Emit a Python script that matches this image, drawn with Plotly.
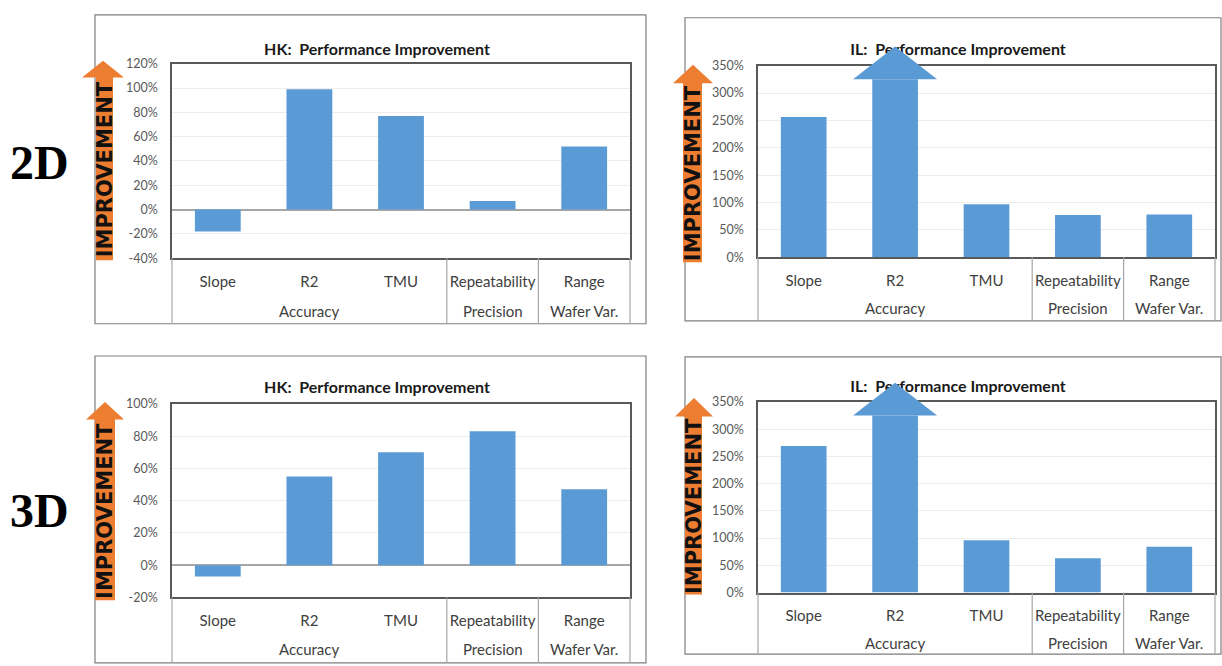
import plotly.graph_objects as go

# ---------------- data ----------------
metrics = ["Slope", "R2", "TMU", "Repeatability", "Range"]
groups = ["Accuracy", "Accuracy", "Accuracy", "Precision", "Wafer Var."]

hk_2d = [-18, 99, 77, 7, 52]
il_2d = [256, 385, 97, 77, 78]     # R2 is off-scale -> drawn as an arrow
hk_3d = [-7, 55, 70, 83, 47]
il_3d = [269, 385, 96, 63, 84]     # R2 is off-scale -> drawn as an arrow

hk_2d_ticks = [-40, -20, 0, 20, 40, 60, 80, 100, 120]
hk_3d_ticks = [-20, 0, 20, 40, 60, 80, 100]
il_ticks = [0, 50, 100, 150, 200, 250, 300, 350]

hk_title = "HK:\u00a0 Performance Improvement"
il_title = "IL:\u00a0 Performance Improvement"
row_labels = ["2D", "3D"]
side_label = "IMPROVEMENT"

# ---------------- styles / layout ----------------
W, H = 1222, 666
BLUE = "#5B9BD5"
ORANGE = "#ED7D31"
FONT = "Lato"
HEAD_LEN = 60          # arrow head length (axis units, %)
HEAD_HALF = 0.46       # arrow head half width (category units)


def px(x):
    return x / W


def py(y):
    return 1 - y / H


panels = [
    dict(vals=hk_2d, ticks=hk_2d_ticks, title=hk_title, title_x=377, title_y=41,
         plot=(172, 630, 57, 256), box=(95, 646, 7, 323), rows=(280, 310),
         orange=(96, 113, 82, 124, 54, 71, 258), zero=True),
    dict(vals=il_2d, ticks=il_ticks, title=il_title, title_x=958, title_y=41,
         plot=(758, 1215, 59, 255), box=(685, 1221, 10, 320), rows=(277, 307),
         orange=(683, 702, 673, 713, 58, 77, 260), zero=False),
    dict(vals=hk_3d, ticks=hk_3d_ticks, title=hk_title, title_x=377, title_y=387,
         plot=(172, 630, 405, 603), box=(95, 646, 356, 670), rows=(625, 656),
         orange=(95, 115, 86, 124, 403, 421, 606), zero=True),
    dict(vals=il_3d, ticks=il_ticks, title=il_title, title_x=958, title_y=386,
         plot=(758, 1215, 403, 598), box=(685, 1221, 357, 661), rows=(619, 650),
         orange=(685, 702, 675, 713, 399, 418, 600), zero=False),
]

fig = go.Figure()
shapes = []
annotations = []
layout_axes = {}
n = len(metrics)

# group boundaries (category index where group changes)
bounds = [0] + [i for i in range(1, n) if groups[i] != groups[i - 1]] + [n]
group_spans = []
for a, b in zip(bounds[:-1], bounds[1:]):
    group_spans.append((groups[a], (a + b - 1) / 2))

for k, p in enumerate(panels, start=1):
    sfx = "" if k == 1 else str(k)
    xa, ya = f"x{sfx}", f"y{sfx}"
    ymin, ymax = min(p["ticks"]), max(p["ticks"])
    bar_vals = [v - HEAD_LEN if v > ymax else v for v in p["vals"]]
    fig.add_trace(go.Bar(x=metrics, y=bar_vals, xaxis=xa, yaxis=ya,
                         marker=dict(color=BLUE, line=dict(width=0)),
                         showlegend=False, hoverinfo="x+y"))

    x0, x1, y0, y1 = p["plot"]
    layout_axes[f"xaxis{sfx}"] = dict(
        domain=[px(x0), px(x1)], anchor=ya, type="category",
        showline=True, mirror=True, linecolor="#595959", linewidth=1.5,
        showgrid=False, ticks="", ticklabelstandoff=9,
        tickfont=dict(family=FONT, size=15, color="#404040"),
        fixedrange=True)
    layout_axes[f"yaxis{sfx}"] = dict(
        domain=[py(y1), py(y0)], anchor=xa, range=[ymin, ymax],
        tickvals=p["ticks"], ticktext=[f"{t}%" for t in p["ticks"]],
        showline=True, mirror=True, linecolor="#595959", linewidth=1.5,
        showgrid=True, gridcolor="#ededed", gridwidth=1,
        zeroline=p["zero"], zerolinecolor="#a6a6a6", zerolinewidth=1.5,
        ticks="", ticklabelstandoff=10,
        tickfont=dict(family=FONT, size=12.5, color="#595959"),
        fixedrange=True)

    # panel frame
    bx0, bx1, by0, by1 = p["box"]
    shapes.append(dict(type="rect", xref="paper", yref="paper",
                       x0=px(bx0), x1=px(bx1), y0=py(by1), y1=py(by0),
                       line=dict(color="#7f7f7f", width=1.2), layer="below"))

    # category dividers
    for b in bounds:
        shapes.append(dict(type="line", xref=f"{xa} domain", yref="paper",
                           x0=b / n, x1=b / n, y0=py(y1), y1=py(by1),
                           line=dict(color="#a6a6a6", width=1.2)))

    # group labels (second row)
    for g, c in group_spans:
        annotations.append(dict(x=c, xref=xa, y=py(p["rows"][1]), yref="paper",
                                text=g, showarrow=False, xanchor="center", yanchor="middle",
                                font=dict(family=FONT, size=15, color="#404040")))

    # title (as a shape label so the off-scale arrow can overlap it)
    tx, ty = p["title_x"], p["title_y"]
    shapes.append(dict(type="rect", xref="paper", yref="paper",
                       x0=px(tx - 130), x1=px(tx + 130), y0=py(ty + 10), y1=py(ty - 10),
                       line=dict(width=0), fillcolor="rgba(0,0,0,0)", layer="above",
                       label=dict(text=p["title"], textposition="middle center",
                                  font=dict(family=FONT, size=16, color="#1a1a1a", weight="bold"))))

    # off-scale arrow heads
    for i, v in enumerate(p["vals"]):
        if v > ymax:
            cx = (i + 0.5) / n
            hw = HEAD_HALF / n
            yb = (v - HEAD_LEN - ymin) / (ymax - ymin)
            yt = (v - ymin) / (ymax - ymin)
            shapes.append(dict(type="path", xref=f"{xa} domain", yref=f"{ya} domain",
                               path=f"M {cx - hw},{yb} L {cx + hw},{yb} L {cx},{yt} Z",
                               fillcolor=BLUE, line=dict(width=0), layer="above"))

    # orange IMPROVEMENT arrow
    sx0, sx1, hx0, hx1, tip, base, bot = p["orange"]
    path = (f"M {px(sx0)},{py(bot)} L {px(sx0)},{py(base)} L {px(hx0)},{py(base)} "
            f"L {px((hx0 + hx1) / 2)},{py(tip)} L {px(hx1)},{py(base)} "
            f"L {px(sx1)},{py(base)} L {px(sx1)},{py(bot)} Z")
    shapes.append(dict(type="path", xref="paper", yref="paper", path=path,
                       fillcolor=ORANGE, line=dict(width=0), layer="above"))
    annotations.append(dict(x=px((sx0 + sx1) / 2), y=py((base + bot) / 2 + 1),
                            xref="paper", yref="paper", text=f"<b>{side_label}</b>",
                            textangle=-90, showarrow=False, xanchor="center", yanchor="middle",
                            font=dict(family="DejaVu Sans", size=21, color="#111111")))

# 2D / 3D row labels
for lab, yy in zip(row_labels, [158, 514]):
    annotations.append(dict(x=px(39), y=py(yy), xref="paper", yref="paper",
                            text=f"<b>{lab}</b>", showarrow=False,
                            xanchor="center", yanchor="middle",
                            font=dict(family="Liberation Serif", size=48, color="#000000")))

fig.update_layout(
    width=W, height=H, margin=dict(l=0, r=0, t=0, b=0),
    paper_bgcolor="white", plot_bgcolor="white",
    bargap=0.5, showlegend=False,
    shapes=shapes, annotations=annotations, **layout_axes)

fig.write_html("out.html", config={"displayModeBar": False},
               post_script="document.body.style.margin='0';")
